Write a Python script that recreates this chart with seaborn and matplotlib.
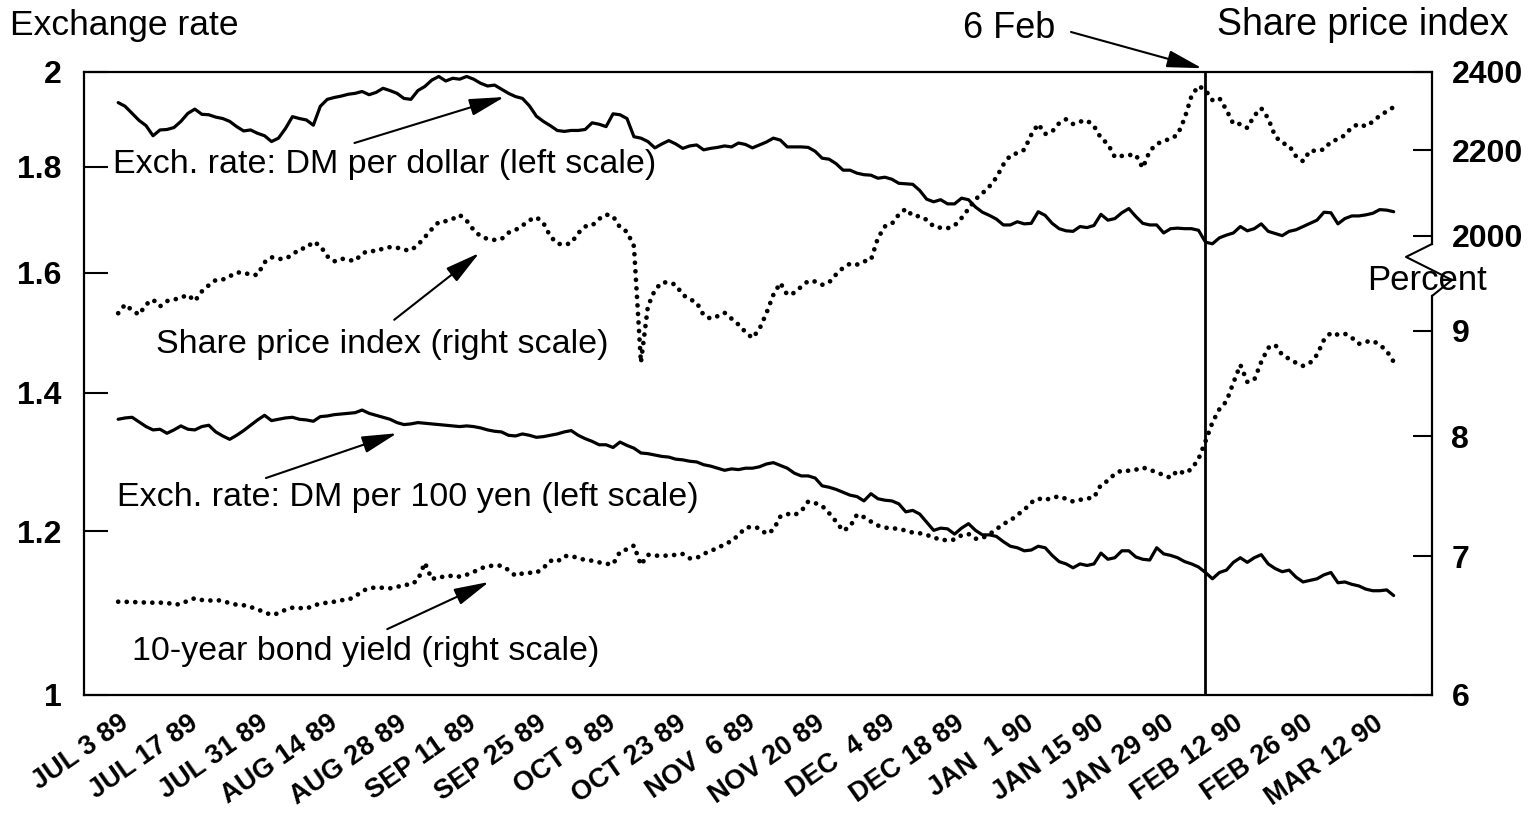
import matplotlib
matplotlib.use("Agg")
import matplotlib.pyplot as plt
from matplotlib.ticker import FixedLocator, NullLocator
import numpy as np
import pandas as pd
import seaborn as sns

# business days starting 3 Jul 1989
start_day = "1989-07-03"
n_days = 184
event_day = "1990-02-06"

dm_per_dollar = [
    1.933, 1.925, 1.910, 1.895, 1.884, 1.863, 1.875, 1.876, 1.880, 1.893,
    1.910, 1.919, 1.908, 1.907, 1.902, 1.899, 1.893, 1.882, 1.873, 1.875,
    1.868, 1.863, 1.851, 1.858, 1.878, 1.903, 1.899, 1.896, 1.885, 1.925,
    1.940, 1.944, 1.947, 1.951, 1.953, 1.957, 1.950, 1.955, 1.964, 1.959,
    1.953, 1.942, 1.940, 1.959, 1.968, 1.982, 1.990, 1.980, 1.986, 1.984,
    1.990, 1.984, 1.975, 1.969, 1.971, 1.962, 1.953, 1.946, 1.942, 1.926,
    1.904, 1.893, 1.884, 1.874, 1.872, 1.874, 1.874, 1.876, 1.890, 1.887,
    1.882, 1.909, 1.907, 1.899, 1.861, 1.858, 1.851, 1.838, 1.846, 1.853,
    1.846, 1.837, 1.842, 1.844, 1.834, 1.837, 1.839, 1.842, 1.840, 1.848,
    1.845, 1.838, 1.844, 1.850, 1.858, 1.854, 1.840, 1.840, 1.840, 1.839,
    1.831, 1.817, 1.815, 1.806, 1.793, 1.793, 1.787, 1.784, 1.783, 1.777,
    1.779, 1.775, 1.767, 1.766, 1.765, 1.753, 1.736, 1.731, 1.735, 1.727,
    1.727, 1.738, 1.735, 1.721, 1.711, 1.705, 1.698, 1.687, 1.687, 1.693,
    1.689, 1.690, 1.712, 1.705, 1.690, 1.680, 1.676, 1.675, 1.684, 1.682,
    1.686, 1.707, 1.696, 1.699, 1.710, 1.718, 1.703, 1.690, 1.687, 1.687,
    1.672, 1.680, 1.681, 1.680, 1.680, 1.677, 1.655, 1.652, 1.663, 1.668,
    1.672, 1.684, 1.676, 1.680, 1.689, 1.675, 1.671, 1.667, 1.675, 1.678,
    1.684, 1.690, 1.696, 1.711, 1.710, 1.689, 1.699, 1.704, 1.704, 1.706,
    1.709, 1.716, 1.715, 1.712,
]

dm_per_100yen = [
    1.359, 1.361, 1.362, 1.355, 1.348, 1.343, 1.344, 1.338, 1.343, 1.349,
    1.344, 1.343, 1.348, 1.350, 1.340, 1.334, 1.329, 1.335, 1.342, 1.350,
    1.358, 1.365, 1.357, 1.359, 1.361, 1.362, 1.359, 1.358, 1.356, 1.363,
    1.364, 1.366, 1.367, 1.368, 1.369, 1.373, 1.368, 1.365, 1.362, 1.359,
    1.354, 1.351, 1.352, 1.354, 1.353, 1.352, 1.351, 1.350, 1.349, 1.348,
    1.349, 1.348, 1.346, 1.343, 1.341, 1.340, 1.335, 1.334, 1.337, 1.335,
    1.332, 1.333, 1.335, 1.337, 1.340, 1.342, 1.335, 1.330, 1.326, 1.321,
    1.321, 1.317, 1.325, 1.320, 1.316, 1.309, 1.308, 1.306, 1.304, 1.303,
    1.300, 1.299, 1.297, 1.296, 1.292, 1.290, 1.287, 1.284, 1.286, 1.285,
    1.287, 1.287, 1.289, 1.293, 1.295, 1.291, 1.287, 1.280, 1.276, 1.276,
    1.273, 1.262, 1.260, 1.257, 1.253, 1.249, 1.247, 1.241, 1.251, 1.244,
    1.242, 1.241, 1.237, 1.226, 1.228, 1.223, 1.212, 1.201, 1.204, 1.203,
    1.196, 1.204, 1.210, 1.201, 1.195, 1.195, 1.193, 1.186, 1.180, 1.178,
    1.174, 1.175, 1.180, 1.178, 1.168, 1.160, 1.157, 1.152, 1.157, 1.155,
    1.157, 1.171, 1.163, 1.165, 1.174, 1.174, 1.166, 1.163, 1.162, 1.178,
    1.170, 1.168, 1.165, 1.160, 1.157, 1.153, 1.146, 1.138, 1.146, 1.149,
    1.159, 1.165, 1.159, 1.165, 1.169, 1.157, 1.151, 1.147, 1.149, 1.140,
    1.134, 1.136, 1.138, 1.143, 1.146, 1.133, 1.134, 1.131, 1.129, 1.125,
    1.123, 1.123, 1.124, 1.117,
]

share_index = [
    1835, 1853, 1841, 1832, 1853, 1863, 1849, 1860, 1863, 1867,
    1873, 1860, 1880, 1893, 1904, 1905, 1912, 1920, 1920, 1915,
    1915, 1942, 1953, 1949, 1950, 1958, 1971, 1973, 1987, 1978,
    1955, 1944, 1950, 1947, 1945, 1961, 1967, 1966, 1972, 1975,
    1974, 1969, 1968, 1980, 1997, 2015, 2031, 2033, 2038, 2047,
    2034, 2013, 1999, 1993, 1991, 1993, 2007, 2013, 2023, 2035,
    2042, 2029, 1999, 1983, 1980, 1984, 2006, 2021, 2023, 2038,
    2048, 2044, 2019, 2009, 1977, 1737, 1849, 1883, 1899, 1899,
    1894, 1873, 1864, 1857, 1831, 1824, 1829, 1836, 1824, 1812,
    1797, 1785, 1803, 1835, 1873, 1898, 1873, 1877, 1890, 1902,
    1901, 1894, 1899, 1916, 1930, 1939, 1937, 1944, 1947, 1995,
    2021, 2027, 2048, 2061, 2045, 2044, 2036, 2021, 2018, 2017,
    2023, 2040, 2061, 2083, 2097, 2113, 2134, 2165, 2187, 2193,
    2201, 2238, 2265, 2240, 2246, 2267, 2277, 2265, 2271, 2274,
    2260, 2230, 2215, 2183, 2186, 2188, 2189, 2157, 2198, 2215,
    2223, 2228, 2238, 2279, 2337, 2363, 2352, 2326, 2331, 2301,
    2265, 2265, 2255, 2286, 2305, 2279, 2234, 2218, 2211, 2185,
    2173, 2199, 2198, 2202, 2221, 2227, 2237, 2257, 2265, 2259,
    2271, 2286, 2297, 2308,
]

bond_yield = [
    6.656, 6.656, 6.652, 6.654, 6.649, 6.649, 6.649, 6.649, 6.634, 6.639,
    6.664, 6.682, 6.669, 6.664, 6.669, 6.662, 6.645, 6.634, 6.630, 6.617,
    6.600, 6.578, 6.559, 6.571, 6.597, 6.612, 6.610, 6.605, 6.627, 6.642,
    6.649, 6.656, 6.667, 6.671, 6.694, 6.736, 6.756, 6.763, 6.760, 6.756,
    6.766, 6.783, 6.783, 6.819, 6.951, 6.824, 6.844, 6.841, 6.854, 6.844,
    6.859, 6.880, 6.908, 6.923, 6.931, 6.928, 6.895, 6.851, 6.869, 6.874,
    6.874, 6.910, 6.967, 6.959, 7.003, 7.003, 6.988, 6.972, 6.967, 6.954,
    6.943, 6.939, 7.037, 7.056, 7.085, 6.934, 7.013, 7.006, 7.006, 7.006,
    7.013, 7.019, 6.985, 6.988, 7.019, 7.045, 7.063, 7.098, 7.119, 7.169,
    7.226, 7.236, 7.223, 7.177, 7.210, 7.317, 7.339, 7.329, 7.361, 7.441,
    7.428, 7.405, 7.345, 7.277, 7.202, 7.236, 7.334, 7.313, 7.277, 7.245,
    7.228, 7.223, 7.218, 7.204, 7.188, 7.183, 7.169, 7.151, 7.129, 7.129,
    7.132, 7.167, 7.177, 7.139, 7.145, 7.175, 7.215, 7.258, 7.285, 7.331,
    7.372, 7.433, 7.466, 7.452, 7.474, 7.483, 7.463, 7.441, 7.455, 7.466,
    7.474, 7.581, 7.615, 7.675, 7.703, 7.700, 7.709, 7.728, 7.709, 7.686,
    7.664, 7.640, 7.703, 7.677, 7.715, 7.802, 7.956, 8.126, 8.247, 8.318,
    8.492, 8.663, 8.501, 8.520, 8.692, 8.829, 8.858, 8.760, 8.721, 8.682,
    8.653, 8.682, 8.760, 8.908, 8.978, 8.958, 8.968, 8.928, 8.868, 8.888,
    8.898, 8.858, 8.799, 8.692,
]

tick_labels = ["JUL 3 89", "JUL 17 89", "JUL 31 89", "AUG 14 89", "AUG 28 89",
               "SEP 11 89", "SEP 25 89", "OCT 9 89", "OCT 23 89", "NOV  6 89",
               "NOV 20 89", "DEC  4 89", "DEC 18 89", "JAN  1 90", "JAN 15 90",
               "JAN 29 90", "FEB 12 90", "FEB 26 90", "MAR 12 90"]
left_ticks = [1, 1.2, 1.4, 1.6, 1.8, 2]
left_tick_labels = ["1", "1.2", "1.4", "1.6", "1.8", "2"]
share_ticks = [2000, 2200, 2400]
pct_ticks = [6, 7, 8, 9]

dates = pd.bdate_range(start_day, periods=n_days)
df = pd.DataFrame({"day": np.arange(n_days), "dollar": dm_per_dollar,
                   "yen": dm_per_100yen, "share": share_index, "bond": bond_yield})
event_pos = dates.get_loc(pd.Timestamp(event_day))

sns.set_style("white")
plt.rcParams["font.family"] = ["Liberation Sans", "DejaVu Sans"]
for key in ("text.color", "axes.labelcolor", "xtick.color", "ytick.color"):
    plt.rcParams[key] = "black"

fig = plt.figure(figsize=(15.36, 8.14), dpi=100)
ax = fig.add_axes([0.0547, 0.1462, 0.8776, 0.7654])
ax.set_yscale("log")
solid = dict(color="black", lw=2.3)
dotted = dict(color="black", lw=3.4, linestyle=(0, (0.01, 1.8)), dash_capstyle="round")

sns.lineplot(data=df, x="day", y="dollar", ax=ax, **solid)
sns.lineplot(data=df, x="day", y="yen", ax=ax, **solid)

ax_sp = ax.twinx()
ax_sp.set_yscale("log")
sns.lineplot(data=df, x="day", y="share", ax=ax_sp, **dotted)

ax_bd = ax.twinx()
ax_bd.set_yscale("log")
sns.lineplot(data=df, x="day", y="bond", ax=ax_bd, **dotted)

ax.set_ylim(1, 2)
ax_sp.set_ylim(1200, 2400)
ax_bd.set_ylim(6, 12)
ax.set_xlim(-4.9, 188.5)

for a in (ax, ax_sp, ax_bd):
    a.set_xlabel("")
    a.set_ylabel("")
    a.yaxis.set_minor_locator(NullLocator())
    for s in a.spines.values():
        s.set_linewidth(1.6)
        s.set_color("black")

ax.spines["right"].set_visible(False)
for a in (ax_sp, ax_bd):
    for side in ("left", "top", "bottom"):
        a.spines[side].set_visible(False)
ax_sp.spines["right"].set_bounds(1982, 2400)
ax_bd.spines["right"].set_bounds(6, 9.355)

# broken right axis
ax.plot([1.0, 0.9807, 1.0148, 1.0], [0.7239, 0.7031, 0.6661, 0.6404],
        transform=ax.transAxes, color="black", lw=1.5, clip_on=False)

# left axis
ax.set_yticks(left_ticks, left_tick_labels)
ax.tick_params(axis="y", direction="in", length=17, width=1.5, pad=16,
               labelsize=23, left=True, right=False)
# right axes
ax_sp.set_yticks(share_ticks, [str(t) for t in share_ticks])
ax_bd.set_yticks(pct_ticks, [str(t) for t in pct_ticks])
for a in (ax_sp, ax_bd):
    a.tick_params(axis="y", direction="in", length=14, width=1.5, pad=14,
                  labelsize=23, left=False, right=True)

# x axis: one minor tick per business day, labels every two weeks
major_pos = np.arange(0, n_days, 10)[:len(tick_labels)]
ax.xaxis.set_major_locator(FixedLocator(major_pos))
ax.xaxis.set_minor_locator(FixedLocator(np.arange(0, n_days + 1)))
ax.set_xticklabels(tick_labels, rotation=35, ha="right", va="top",
                   rotation_mode="anchor")
ax.tick_params(axis="x", which="major", direction="in", length=17, width=1.5,
               pad=11, labelsize=19.5, top=False)
ax.tick_params(axis="x", which="minor", direction="in", length=7, width=1.2,
               top=False)

for lab in ax.get_xticklabels() + ax.get_yticklabels() + \
        ax_sp.get_yticklabels() + ax_bd.get_yticklabels():
    lab.set_fontweight("bold")

# 6 Feb marker
ax.axvline(event_pos, color="black", lw=2.0)

txt = dict(fontsize=24.5, color="black", va="baseline", ha="left")
arrow = dict(arrowstyle="-|>,head_length=0.9,head_width=0.22", mutation_scale=24,
             lw=1.5, color="black", shrinkA=0, shrinkB=0)

ax.text(-0.7, 1.787, "Exch. rate: DM per dollar (left scale)", **txt)
ax.annotate("", xy=(55.4, 1.945), xytext=(33.9, 1.848), arrowprops=arrow)
ax.text(5.45, 1.4625, "Share price index (right scale)", **txt)
ax.annotate("", xy=(51.8, 1.635), xytext=(39.6, 1.518), arrowprops=arrow)
ax.text(-0.1, 1.234, "Exch. rate: DM per 100 yen (left scale)", **txt)
ax.annotate("", xy=(40.0, 1.338), xytext=(21.2, 1.273), arrowprops=arrow)
ax.text(2.05, 1.0397, "10-year bond yield (right scale)", **txt)
ax.annotate("", xy=(53.2, 1.134), xytext=(38.6, 1.076), arrowprops=arrow)

ax.annotate("", xy=(event_pos - 0.5, 1.006), xycoords=("data", "axes fraction"),
            xytext=(1071, 782), textcoords="figure pixels", arrowprops=arrow,
            annotation_clip=False)

W, H = 1536, 814
fig.text(10 / W, 1 - 35 / H, "Exchange rate", fontsize=25.5, va="baseline")
fig.text(963 / W, 1 - 38 / H, "6 Feb", fontsize=26, va="baseline")
fig.text(1217 / W, 1 - 35 / H, "Share price index", fontsize=27, va="baseline")
fig.text(1367 / W, 1 - 290 / H, "Percent", fontsize=25, va="baseline")

fig.savefig("out.png", dpi=100, facecolor="white")
